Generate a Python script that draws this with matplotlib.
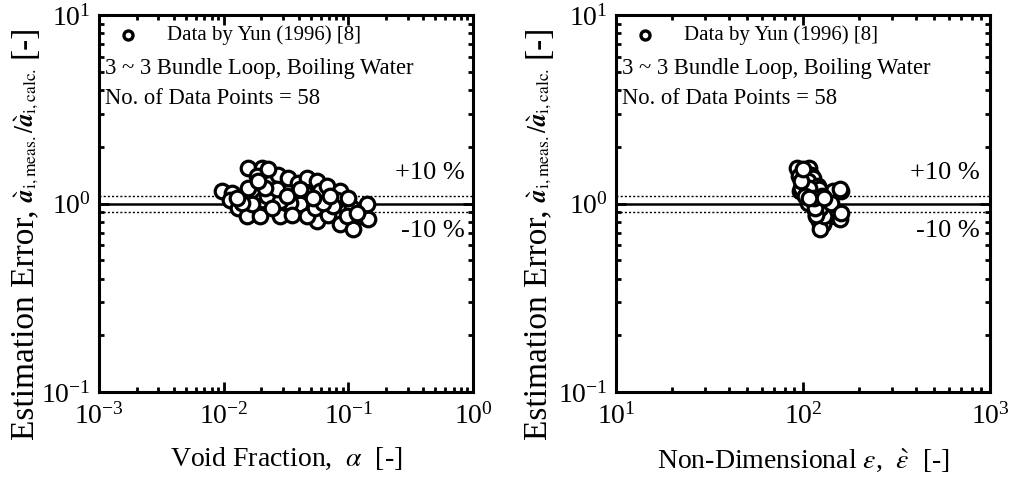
import numpy as np
import matplotlib
matplotlib.use("Agg")
import matplotlib.pyplot as plt
from matplotlib.ticker import LogLocator, NullFormatter, LogFormatterMathtext

plt.rcParams['font.family'] = ['Liberation Serif', 'DejaVu Serif']
plt.rcParams['mathtext.fontset'] = 'stix'

# Measured / calculated interfacial area ratio for each data point
ratio = [1.162, 1.140, 1.050, 0.952, 0.856, 1.546, 1.546, 1.396, 1.211, 1.050,
         0.856, 1.288, 1.425, 0.856, 1.187, 1.369, 1.288, 1.140, 1.369, 1.313,
         1.162, 1.009, 0.988, 0.806, 0.856, 1.235, 0.874, 1.162, 1.050, 0.774,
         0.949, 0.728, 0.856, 0.988, 0.823, 1.009, 1.116, 1.093, 0.988, 1.028,
         0.968, 0.856, 1.187, 0.949, 0.874, 1.211, 1.009, 1.313, 1.009, 1.093,
         0.949, 1.072, 1.093, 1.072, 0.893, 1.072, 1.515, 1.187]

# Void fraction of each point
void_fraction = [0.00964, 0.01159, 0.01123, 0.01302, 0.01529, 0.01575, 0.02017, 0.01839,
                 0.01575, 0.02017, 0.01955, 0.02351, 0.02741, 0.02829, 0.03101, 0.03296,
                 0.03965, 0.04487, 0.04630, 0.05569, 0.05918, 0.04920, 0.04092, 0.05569,
                 0.04630, 0.06699, 0.06900, 0.08563, 0.08057, 0.08563, 0.1063, 0.1095,
                 0.1239, 0.1403, 0.1444, 0.03402, 0.02578, 0.02212, 0.01677, 0.02829,
                 0.07564, 0.09692, 0.02661, 0.05396, 0.03511, 0.02144, 0.01394, 0.01894,
                 0.06290, 0.07119, 0.02426, 0.05230, 0.03200, 0.09982, 0.1166, 0.01271,
                 0.02279, 0.04092]

# Non-dimensional dissipation rate of each point
epsilon = [96, 112, 108, 114, 118, 93, 108, 95, 98, 112,
           125, 104, 110, 122, 115, 100, 112, 118, 113, 106,
           145, 116, 120, 122, 140, 120, 135, 160, 125, 128,
           132, 124, 150, 138, 158, 110, 104, 118, 112, 122,
           128, 130, 122, 124, 118, 108, 106, 98, 142, 126,
           116, 114, 102, 130, 160, 108, 100, 158]

legend_lines = ["Data by Yun (1996) [8]",
                "3 ~ 3 Bundle Loop, Boiling Water",
                "No. of Data Points = 58"]

# y-axis label, written in pieces so the symbol part can be set smaller
ylabel_parts = [("Estimation Error,", 24, 8),
                (r'$\grave{\mathbfit{a}}_{\mathrm{i,meas.}}'
                 r'/\grave{\mathbfit{a}}_{\mathrm{i,calc.}}$', 18, 9),
                ("[-]", 24, 0)]

W, H = 1010, 479
fig = plt.figure(figsize=(W / 100, H / 100), dpi=100)
renderer = fig.canvas.get_renderer()

panels = [
    dict(left=99, x=void_fraction, xlim=(1e-3, 1e0),
         xlabel=r'Void Fraction,  $\alpha$  [-]',
         ylab_base=33, ypad=6.0, txt_x=0.979),
    dict(left=616, x=epsilon, xlim=(1e1, 1e3),
         xlabel=r'Non-Dimensional $\varepsilon$,  $\grave{\varepsilon}$  [-]',
         ylab_base=546, ypad=6.0, txt_x=0.973),
]

for p in panels:
    ax = fig.add_axes([p['left'] / W, (H - 392) / H, 374 / W, 377 / H])
    ax.set_xscale('log')
    ax.set_yscale('log')
    ax.set_xlim(*p['xlim'])
    ax.set_ylim(0.1, 10)

    # reference lines: perfect agreement and +/-10 % band
    ax.axhline(1.0, color='black', lw=1.8, zorder=1)
    ax.axhline(1.1, color='black', lw=1.0, ls=(0, (1.5, 1.5)), zorder=1)
    ax.axhline(0.9, color='black', lw=1.0, ls=(0, (1.5, 1.5)), zorder=1)

    ax.plot(p['x'], ratio, ls='none', marker='o', ms=10.5, mfc='white',
            mec='black', mew=2.3, zorder=3)

    ax.text(p['txt_x'], 0.582, '+10 %', transform=ax.transAxes, ha='right',
            va='center', fontsize=19)
    ax.text(p['txt_x'], 0.428, '-10 %', transform=ax.transAxes, ha='right',
            va='center', fontsize=19)

    # legend-like header
    ax.plot([0.078], [0.947], transform=ax.transAxes, ls='none', marker='o',
            ms=6.5, mfc='white', mec='black', mew=2.4, clip_on=False)
    ax.text(0.182, 0.947, legend_lines[0], transform=ax.transAxes, ha='left',
            va='center', fontsize=15)
    ax.text(0.016, 0.858, legend_lines[1], transform=ax.transAxes, ha='left',
            va='center', fontsize=16.3)
    ax.text(0.016, 0.778, legend_lines[2], transform=ax.transAxes, ha='left',
            va='center', fontsize=16.3)

    for s in ax.spines.values():
        s.set_linewidth(2.2)

    ax.xaxis.set_major_locator(LogLocator(base=10, numticks=10))
    ax.yaxis.set_major_locator(LogLocator(base=10, numticks=10))
    ax.xaxis.set_minor_locator(LogLocator(base=10, subs=np.arange(2, 10), numticks=10))
    ax.yaxis.set_minor_locator(LogLocator(base=10, subs=np.arange(2, 10), numticks=10))
    ax.xaxis.set_minor_formatter(NullFormatter())
    ax.yaxis.set_minor_formatter(NullFormatter())
    ax.xaxis.set_major_formatter(LogFormatterMathtext())
    ax.yaxis.set_major_formatter(LogFormatterMathtext())
    ax.tick_params(which='both', direction='in', top=True, right=True,
                   labelsize=20, width=2.0)
    ax.tick_params(which='major', length=7)
    ax.tick_params(which='minor', length=3.5)
    ax.tick_params(axis='x', which='major', pad=8)
    ax.tick_params(axis='y', which='major', pad=p['ypad'])

    ax.set_xlabel(p['xlabel'], fontsize=20, labelpad=12)

    # rotated y label pieces, stacked bottom to top on a common baseline
    y = H - 440
    for s, fs, gap in ylabel_parts:
        t = fig.text(p['ylab_base'] / W, y / H, s, rotation=90,
                     rotation_mode='anchor', ha='left', va='baseline',
                     fontsize=fs)
        ext = t.get_window_extent(renderer)
        y = ext.y1 + gap

fig.savefig('out.png', dpi=100)
